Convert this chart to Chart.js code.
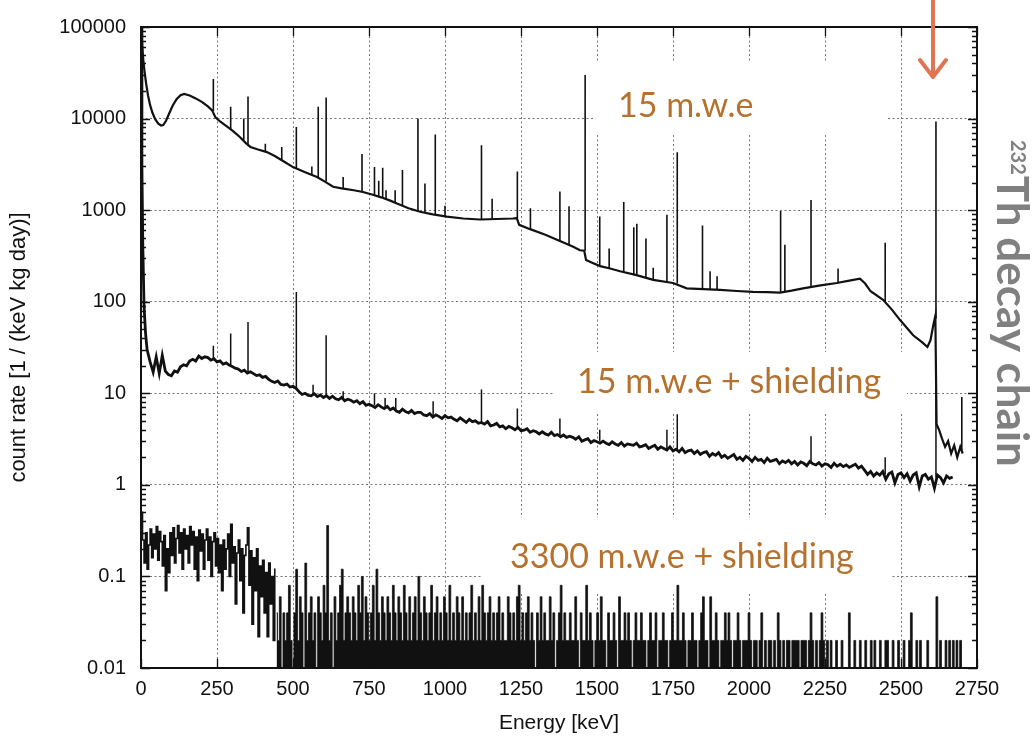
<!DOCTYPE html>
<html>
<head>
<meta charset="utf-8">
<script src="https://cdn.jsdelivr.net/npm/chart.js@4.4.0/dist/chart.umd.min.js"></script>
<style>
  html, body { margin: 0; padding: 0; background: #fff; }
  #wrap { width: 1036px; height: 740px; position: relative; }
</style>
</head>
<body>
<div id="wrap"><canvas id="spectrum" width="1036" height="740"></canvas></div>
<script>
// x: energy in keV, y: count rate in 1/(keV kg day)
const X_TICK_STEP = 250;
const Y_TICK_VALUES = [0.01, 0.1, 1, 10, 100, 1000, 10000, 100000];
const Y_TICK_LABELS = ["0.01", "0.1", "1", "10", "100", "1000", "10000", "100000"];
const Y_MINOR = [2, 3, 4, 5, 6, 7, 8, 9];

// 15 m.w.e : continuum [E, rate]
const surfaceCont = [
  [1, 95000], [4, 62000], [8, 42000], [12, 32000], [17, 24000], [23, 18000], [30, 14000],
  [38, 11500], [47, 9800], [57, 8800], [66, 8400], [73, 8500], [82, 9400], [92, 11200],
  [104, 13800], [117, 16300], [130, 18000], [142, 18600], [160, 17900], [180, 16600],
  [200, 15200], [220, 13600], [234, 12300], [245, 10300], [260, 9300], [280, 8300],
  [303, 7300], [325, 6300], [345, 5400], [360, 4900], [385, 4600], [414, 4300], [440, 3900],
  [470, 3400], [500, 2950], [540, 2600], [579, 2300], [605, 2050], [632, 1800], [660, 1730],
  [700, 1650], [730, 1580], [760, 1480], [790, 1380], [820, 1270], [842, 1180], [880, 1050],
  [918, 960], [960, 900], [1006, 850], [1060, 810], [1115, 790], [1170, 800], [1224, 810],
  [1236, 820], [1244, 690], [1280, 620], [1330, 540], [1378, 460], [1420, 400], [1444, 365],
  [1458, 360], [1464, 285], [1480, 270], [1510, 245], [1540, 232], [1576, 215], [1630, 195],
  [1685, 173], [1750, 160], [1795, 140], [1850, 137], [1905, 135], [1960, 131], [2013, 128],
  [2060, 127], [2102, 126], [2140, 132], [2178, 140], [2230, 150], [2289, 160], [2330, 170],
  [2365, 178], [2382, 158], [2400, 130], [2441, 105], [2470, 82], [2497, 63], [2540, 43],
  [2570, 36], [2587, 32], [2597, 38], [2606, 55], [2613, 70], [2617, 4.6], [2625, 4.0],
  [2635, 3.2], [2645, 2.6], [2655, 3.0], [2665, 2.2], [2675, 2.7], [2685, 2.0], [2695, 2.6],
  [2703, 2.2]
];
// 15 m.w.e : lines [E, foot, top]
const surfaceLines = [
  [238, 12000, 27000], [295, 7500, 13500], [338, 5800, 10000], [352, 5200, 17400],
  [409, 4350, 5300], [463, 3500, 4900], [511, 2850, 8100], [562, 2450, 3000],
  [583, 2250, 13500], [609, 2050, 17000], [665, 1720, 2300], [727, 1590, 4100],
  [768, 1460, 2950], [782, 1400, 2100], [795, 1370, 2900], [806, 1330, 1650],
  [836, 1200, 1650], [860, 1120, 2750], [911, 980, 10000], [934, 940, 1950],
  [968, 900, 6700], [1000, 855, 1120], [1120, 790, 5100], [1155, 795, 1330],
  [1238, 815, 2650], [1281, 620, 1050], [1378, 460, 1600], [1408, 415, 1100],
  [1461, 360, 30000], [1509, 245, 850], [1540, 232, 380], [1588, 212, 1230],
  [1621, 200, 650], [1631, 198, 710], [1661, 182, 490], [1685, 173, 235],
  [1730, 164, 890], [1764, 158, 4300], [1847, 138, 680], [1872, 137, 215],
  [1895, 136, 190], [2104, 126, 980], [2118, 128, 420], [2204, 147, 1290],
  [2293, 161, 230], [2448, 100, 440], [2615, 65, 9300], [2700, 2.4, 9.1]
];

// 15 m.w.e + shielding
const shieldStart = [[0.5, 100000], [3, 3000], [6, 400], [10, 90], [15, 45]];
const shieldFirstE = 20;
const shieldStepE = 10;
const shieldRates = [
  30, 22, 17, 25, 16.5, 26, 17.5, 16, 15.5, 17.5,
  17, 19.5, 20.5, 20, 22.5, 23.5, 22.5, 25.5, 24, 25,
  24.5, 23, 23.8, 22, 22.6, 20.8, 21.5, 20.3, 19.6, 18.8,
  18.4, 17.3, 17.9, 16.6, 17.2, 16.4, 15.6, 15.9, 14.9, 15.3,
  14.2, 13.5, 13.1, 13.6, 12.5, 12.3, 12.6, 11.7, 11.9, 11.3,
  10.4, 9.7, 10.0, 9.5, 9.4, 9.9, 9.2, 9.6, 9.0, 9.4,
  8.8, 9.3, 8.7, 8.5, 9.0, 8.3, 8.6, 8.4, 8.0, 8.3,
  7.7, 8.1, 7.4, 7.6, 7.3, 7.0, 7.5, 7.1, 6.8, 7.2,
  6.6, 6.9, 6.4, 6.2, 6.7, 6.3, 6.1, 6.5, 6.0, 6.2,
  6.2, 5.8, 5.7, 6.0, 5.5, 5.8, 5.6, 5.3, 5.7, 5.4,
  5.5, 5.2, 5.0, 5.4, 5.1, 4.8, 5.2, 4.9, 5.0, 4.7,
  4.8, 4.6, 4.9, 4.4, 4.5, 4.7, 4.3, 4.4, 4.1, 4.35,
  4.2, 4.0, 4.25, 3.9, 3.95, 4.1, 3.75, 3.9, 3.8, 3.6,
  3.8, 3.6, 3.5, 3.75, 3.45, 3.55, 3.35, 3.5, 3.3, 3.4,
  3.3, 3.15, 3.35, 3.0, 3.1, 3.2, 2.9, 3.05, 2.95, 2.85,
  3.0, 2.85, 2.75, 2.95, 2.8, 2.7, 2.9, 2.65, 2.8, 2.75,
  2.7, 2.85, 2.6, 2.65, 2.75, 2.5, 2.6, 2.7, 2.45, 2.6,
  2.5, 2.4, 2.6, 2.35, 2.45, 2.3, 2.5, 2.25, 2.35, 2.4,
  2.2, 2.35, 2.15, 2.25, 2.3, 2.05, 2.2, 2.1, 2.25, 2.0,
  2.1, 1.95, 2.05, 2.15, 1.9, 2.0, 1.85, 2.05, 1.95, 1.8,
  2.0, 1.85, 1.9, 1.75, 1.95, 1.8, 1.85, 1.9, 1.7, 1.82,
  1.75, 1.85, 1.7, 1.8, 1.65, 1.78, 1.72, 1.62, 1.8, 1.7,
  1.65, 1.75, 1.6, 1.7, 1.66, 1.55, 1.72, 1.6, 1.68, 1.58,
  1.65, 1.55, 1.62, 1.68, 1.52, 1.6, 1.45, 1.3, 1.4, 1.25,
  1.35, 1.28, 1.4, 1.15, 1.32, 1.38, 1.05, 1.3, 1.35, 1.2,
  1.32, 1.1, 1.28, 1.35, 0.95, 1.25, 1.3, 1.15, 1.22, 0.92,
  1.28, 1.2, 1.05, 1.25, 1.18, 1.22
];
const shieldLines = [
  [238, 23, 33], [295, 19.5, 45], [352, 17, 60], [511, 11, 128], [566, 9.7, 12.4],
  [609, 9.2, 43], [665, 8.8, 10.5], [768, 7.4, 10], [803, 7.1, 8.9], [838, 6.6, 8.9],
  [961, 5.8, 8.2], [1120, 4.8, 11], [1238, 4.1, 6.8], [1378, 3.5, 5.3], [1509, 3.0, 4.0],
  [1730, 2.5, 4.0], [1764, 2.4, 5.9], [2204, 1.7, 3.4], [2448, 1.3, 2.0], [2615, 1.2, 12]
];

// 3300 m.w.e + shielding, low energy part (5 keV bins)
const deepLowFirstE = 2.5;
const deepLowStepE = 5;
const deepLowRates = [
  0.5, 0.25, 0.14, 0.3, 0.12, 0.22, 0.33, 0.16, 0.29, 0.2,
  0.35, 0.15, 0.31, 0.24, 0.13, 0.28, 0.07, 0.2, 0.11, 0.3,
  0.17, 0.34, 0.14, 0.26, 0.36, 0.18, 0.3, 0.12, 0.33, 0.2,
  0.28, 0.14, 0.35, 0.22, 0.31, 0.12, 0.27, 0.09, 0.32, 0.19,
  0.29, 0.12, 0.25, 0.33, 0.15, 0.27, 0.1, 0.24, 0.3, 0.13,
  0.26, 0.11, 0.22, 0.07, 0.25, 0.12, 0.2, 0.29, 0.1, 0.37,
  0.14, 0.21, 0.05, 0.18, 0.25, 0.09, 0.2, 0.04, 0.17, 0.22,
  0.34, 0.08, 0.19, 0.03, 0.16, 0.07, 0.2, 0.022, 0.13, 0.06,
  0.15, 0.04, 0.11, 0.022, 0.14, 0.05, 0.1, 0.02, 0.12
];
// 3300 m.w.e + shielding, above 443 keV (6 keV bins, 0.01 = empty bin)
const deepHighFirstE = 446;
const deepHighStepE = 6;
const deepHighRates = [
  .04, .02, .06, .01, .04, .02, .04, .08, .02, .01, .04, .12, .02, .06, .04, .01, .14, .02, .04, .06,
  .02, .04, .01, .06, .04, .02, .08, .04, .36, .02, .04, .01, .06, .02, .04, .08, .12, .02, .04, .06,
  .04, .02, .06, .04, .02, .08, .04, .1, .02, .06, .04, .02, .04, .08, .02, .12, .04, .02, .06, .04,
  .02, .06, .04, .02, .08, .04, .02, .06, .04, .02, .08, .04, .02, .06, .02, .04, .06, .02, .1, .04,
  .02, .06, .04, .02, .04, .08, .02, .04, .06, .02, .04, .02, .06, .04, .02, .08, .02, .04, .02, .06,
  .04, .02, .06, .02, .04, .02, .04, .08, .02, .04, .02, .06, .02, .08, .04, .02, .04, .06, .02, .04,
  .02, .04, .06, .02, .04, .02, .02, .06, .04, .02, .04, .02, .06, .08, .02, .04, .02, .04, .06, .02,
  .04, .02, .01, .04, .02, .06, .02, .04, .02, .02, .06, .02, .04, .01, .02, .04, .08, .02, .04, .02,
  .02, .04, .02, .02, .06, .02, .01, .04, .02, .02, .08, .02, .04, .02, .01, .02, .04, .02, .06, .02,
  .02, .01, .04, .02, .02, .04, .02, .01, .06, .02, .02, .04, .02, .04, .02, .01, .02, .04, .02, .02,
  .04, .02, .02, .01, .02, .04, .02, .02, .04, .01, .02, .02, .04, .02, .02, .01, .02, .04, .02, .02,
  .08, .02, .02, .04, .02, .01, .02, .02, .04, .02, .02, .01, .02, .04, .06, .02, .02, .01, .06, .02,
  .02, .04, .02, .01, .02, .02, .04, .02, .04, .02, .01, .02, .02, .04, .02, .01, .02, .02, .02, .04,
  .02, .01, .02, .02, .01, .02, .04, .01, .02, .01, .02, .02, .01, .02, .01, .04, .02, .01, .02, .01,
  .02, .02, .01, .02, .02, .02, .02, .01, .02, .02, .02, .01, .02, .04, .02, .01, .02, .01, .02, .04,
  .02, .01, .02, .01, .02, .01, .01, .02, .01, .01, .02, .01, .01, .01, .04, .01, .01, .02, .01, .01,
  .02, .01, .01, .02, .01, .01, .02, .01, .02, .01, .01, .02, .01, .01, .02, .02, .01, .01, .02, .01,
  .01, .02, .01, .01, .02, .01, .01, .02, .04, .01, .01, .02, .01, .02, .01, .01, .01, .02, .01, .01,
  .01, .01, .06, .01, .02, .01, .01, .02, .01, .02, .01, .02, .01, .02, .01, .02, .01
];

const notes = [
  { text: "15 m.w.e", x: 618, y: 117, box: [595, 63, 887, 135] },
  { text: "15 m.w.e + shielding", x: 577, y: 393, box: [553, 352, 907, 413] },
  { text: "3300 m.w.e + shielding", x: 510, y: 568, box: [483, 518, 892, 592] }
];
const NOTE_COLOR = "#b5722f";

const pairs = a => a.map(([x, y]) => ({ x, y }));
const series = (first, step, rates) => rates.map((y, i) => ({ x: first + step * i, y }));
const spikes = a => a.flatMap(([x, lo, hi]) => [{ x, y: lo }, { x, y: hi }, { x, y: null }]);

const noteBoxes = {
  id: "noteBoxes",
  beforeDatasetsDraw(chart) {
    const ctx = chart.ctx;
    ctx.save();
    ctx.fillStyle = "#fff";
    notes.forEach(n => {
      const [l, t, r, b] = n.box;
      ctx.fillRect(l, t, r - l, b - t);
    });
    ctx.restore();
  }
};

const frameTicks = {
  id: "frameTicks",
  afterDatasetsDraw(chart) {
    const { ctx, chartArea: a, scales: { x, y } } = chart;
    ctx.save();
    ctx.strokeStyle = "#111";
    ctx.lineWidth = 1.3;
    ctx.beginPath();
    Y_TICK_VALUES.forEach(v => {
      [1].concat(Y_MINOR).forEach(m => {
        const val = v * m;
        if (val > y.max * 1.001) return;
        const py = Math.round(y.getPixelForValue(val)) + 0.5;
        const len = m === 1 ? 9 : 5;
        ctx.moveTo(a.left, py); ctx.lineTo(a.left + len, py);
        ctx.moveTo(a.right, py); ctx.lineTo(a.right - len, py);
      });
    });
    x.ticks.forEach(t => {
      const px = Math.round(x.getPixelForValue(t.value)) + 0.5;
      ctx.moveTo(px, a.bottom); ctx.lineTo(px, a.bottom - 9);
      ctx.moveTo(px, a.top); ctx.lineTo(px, a.top + 9);
    });
    ctx.stroke();
    ctx.lineWidth = 2;
    ctx.strokeRect(a.left, a.top, a.right - a.left, a.bottom - a.top);
    ctx.restore();
  },
  afterDraw(chart) {
    const ctx = chart.ctx;
    ctx.save();
    // annotations
    ctx.fillStyle = NOTE_COLOR;
    ctx.font = "34px Lato, 'Open Sans', sans-serif";
    ctx.textBaseline = "alphabetic";
    notes.forEach(n => ctx.fillText(n.text, n.x, n.y));

    // arrow to the 2615 keV line
    ctx.strokeStyle = "#e07453";
    ctx.lineWidth = 4;
    ctx.lineCap = "round";
    ctx.lineJoin = "round";
    ctx.beginPath();
    ctx.moveTo(933, -4); ctx.lineTo(933, 76);
    ctx.moveTo(920, 60); ctx.lineTo(933, 77); ctx.lineTo(946, 60);
    ctx.stroke();

    // side caption
    ctx.translate(997, 140);
    ctx.rotate(Math.PI / 2);
    ctx.fillStyle = "#808080";
    ctx.font = "bold 20px Lato, 'Open Sans', sans-serif";
    ctx.fillText("232", 0, -14);
    const w = ctx.measureText("232").width;
    ctx.font = "bold 44px Lato, 'Open Sans', sans-serif";
    ctx.fillText("Th decay chain", w + 1, 0);
    ctx.restore();
  }
};

Chart.defaults.font.family = "'Liberation Sans', Arial, sans-serif";
Chart.defaults.color = "#111";

new Chart(document.getElementById("spectrum"), {
  type: "line",
  data: {
    datasets: [
      { label: "15 m.w.e", data: pairs(surfaceCont), borderColor: "#111", borderWidth: 2.2 },
      { label: "15 m.w.e lines", data: spikes(surfaceLines), borderColor: "#111", borderWidth: 1.6 },
      { label: "15 m.w.e + shielding", data: pairs(shieldStart).concat(series(shieldFirstE, shieldStepE, shieldRates)),
        borderColor: "#111", borderWidth: 2.8 },
      { label: "15 m.w.e + shielding lines", data: spikes(shieldLines), borderColor: "#111", borderWidth: 1.5 },
      { label: "3300 m.w.e + shielding", data: series(deepLowFirstE, deepLowStepE, deepLowRates),
        borderColor: "#111", borderWidth: 1.6, stepped: "middle" },
      { label: "3300 m.w.e + shielding (high)", data: series(deepHighFirstE, deepHighStepE, deepHighRates),
        borderColor: "#111", borderWidth: 0.8, stepped: "middle", fill: "start", backgroundColor: "#111" }
    ]
  },
  options: {
    responsive: false,
    animation: false,
    devicePixelRatio: 1,
    spanGaps: false,
    elements: { point: { radius: 0 }, line: { tension: 0 } },
    layout: { padding: { left: 0, right: 59, top: 22, bottom: 0 } },
    plugins: { legend: { display: false }, tooltip: { enabled: false } },
    scales: {
      x: {
        type: "linear", min: 0, max: 2750,
        afterFit: s => { s.height = 72; },
        ticks: { stepSize: X_TICK_STEP, callback: v => String(v), font: { size: 20 }, padding: 9,
                 maxRotation: 0, color: "#111" },
        grid: { color: "#777", lineWidth: 1, drawTicks: false },
        border: { display: false, dash: [2, 2.5] },
        title: { display: true, text: "Energy [keV]", font: { size: 21 }, padding: { top: 0, bottom: 4 } }
      },
      y: {
        type: "logarithmic", min: 0.01, max: 100000,
        afterFit: s => { s.width = 141; },
        afterBuildTicks: s => { s.ticks = Y_TICK_VALUES.map(v => ({ value: v })); },
        ticks: { callback: (v, i) => Y_TICK_LABELS[i], font: { size: 20 }, padding: 15, color: "#111", autoSkip: false },
        grid: { color: "#777", lineWidth: 1, drawTicks: false },
        border: { display: false, dash: [2, 2.5] },
        title: { display: true, text: "count rate [1 / (keV kg day)]", font: { size: 22 }, padding: { top: 6, bottom: 0 } }
      }
    }
  },
  plugins: [noteBoxes, frameTicks]
});
</script>
</body>
</html>
